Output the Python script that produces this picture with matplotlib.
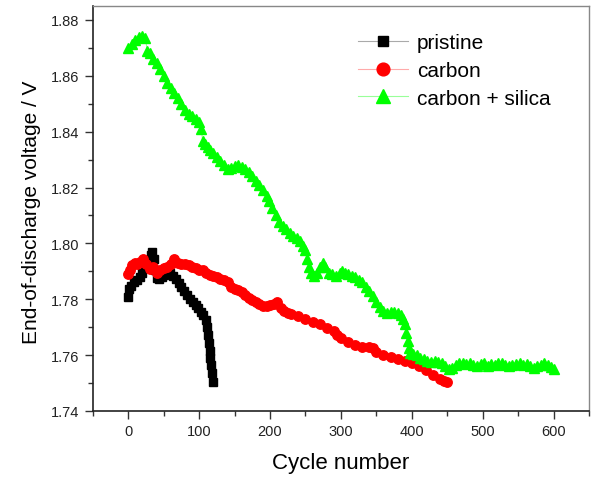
import numpy as np
import matplotlib
matplotlib.use("Agg")
import matplotlib.pyplot as plt
from matplotlib.ticker import MultipleLocator

plt.rcParams["font.family"] = ["Liberation Sans", "DejaVu Sans"]

# pristine
pristine_x = [0, 1, 4, 8, 12, 16, 20, 24, 28, 32, 34, 36, 38, 40, 43, 47, 51, 55, 59,
              63, 67, 71, 75, 79, 83, 87, 91, 95, 99, 103, 106, 109, 111, 113, 114,
              115, 116, 117, 118, 119]
pristine_y = [1.7807, 1.7838, 1.7848, 1.7860, 1.7870, 1.7880, 1.7893, 1.7915, 1.7940,
              1.7960, 1.7968, 1.7945, 1.7905, 1.7875, 1.7872, 1.7880, 1.7888, 1.7893,
              1.7893, 1.7885, 1.7872, 1.7858, 1.7845, 1.7828, 1.7815, 1.7802, 1.7790,
              1.7780, 1.7770, 1.7755, 1.7745, 1.7725, 1.7700, 1.7672, 1.7645, 1.7615,
              1.7590, 1.7565, 1.7535, 1.7502]

# carbon
carbon_x = [0, 2, 5, 9, 13, 17, 21, 25, 30, 35, 40, 45, 50, 55, 60, 65, 70, 75, 80,
            85, 90, 95, 100, 105, 110, 115, 120, 125, 130, 135, 140, 145, 150, 155,
            160, 165, 170, 175, 180, 185, 190, 195, 200, 205, 210, 215, 220, 225, 230,
            240, 250, 260, 270, 280, 290, 295, 300, 310, 320, 330, 340, 345, 350, 360,
            370, 380, 390, 400, 410, 420, 430, 440, 445, 450]
carbon_y = [1.7890, 1.7905, 1.7922, 1.7930, 1.7925, 1.7935, 1.7943, 1.7925, 1.7910,
            1.7915, 1.7895, 1.7905, 1.7912, 1.7915, 1.7925, 1.7943, 1.7930, 1.7925,
            1.7925, 1.7922, 1.7915, 1.7912, 1.7905, 1.7903, 1.7895, 1.7888, 1.7885,
            1.7880, 1.7872, 1.7868, 1.7860, 1.7845, 1.7838, 1.7832, 1.7825, 1.7815,
            1.7805, 1.7798, 1.7790, 1.7782, 1.7776, 1.7775, 1.7778, 1.7782, 1.7790,
            1.7770, 1.7758, 1.7752, 1.7748, 1.7740, 1.7730, 1.7720, 1.7712, 1.7698,
            1.7685, 1.7672, 1.7662, 1.7648, 1.7635, 1.7630, 1.7628, 1.7625, 1.7612,
            1.7600, 1.7595, 1.7585, 1.7578, 1.7570, 1.7560, 1.7545, 1.7530, 1.7515,
            1.7508, 1.7503]

# carbon + silica
silica_x = [0, 5, 10, 15, 20, 24, 27, 30, 35, 40, 45, 50, 55, 60, 65, 70, 75, 80, 85,
            90, 95, 100, 103, 105, 108, 112, 116, 120, 125, 130, 135, 140, 145, 150,
            155, 160, 165, 170, 175, 180, 185, 190, 195, 199, 203, 208, 213, 218, 223,
            228, 233, 238, 242, 246, 249, 252, 255, 258, 262, 266, 270, 274, 278, 283,
            288, 293, 298, 302, 306, 310, 315, 320, 326, 330, 335, 340, 345, 350, 355,
            360, 365, 370, 375, 380, 385, 388, 390, 392, 394, 396, 398, 402, 407, 412,
            417, 422, 427, 432, 437, 442, 447, 452, 457, 462, 467, 472, 477, 482, 487,
            492, 497, 502, 507, 512, 517, 522, 527, 532, 537, 542, 547, 552, 557, 562,
            567, 572, 577, 582, 587, 592, 597, 600]
silica_y = [1.8700, 1.8715, 1.8728, 1.8738, 1.8742, 1.8735, 1.8690, 1.8680, 1.8660,
            1.8645, 1.8625, 1.8600, 1.8575, 1.8558, 1.8538, 1.8520, 1.8500, 1.8478,
            1.8462, 1.8455, 1.8445, 1.8435, 1.8410, 1.8365, 1.8355, 1.8345, 1.8335,
            1.8325, 1.8310, 1.8295, 1.8280, 1.8268, 1.8270, 1.8278, 1.8282, 1.8275,
            1.8265, 1.8255, 1.8240, 1.8225, 1.8210, 1.8190, 1.8170, 1.8150, 1.8125,
            1.8100, 1.8078, 1.8062, 1.8050, 1.8038, 1.8028, 1.8018, 1.8010, 1.7990,
            1.7975, 1.7945, 1.7915, 1.7895, 1.7885, 1.7895, 1.7915, 1.7930, 1.7915,
            1.7895, 1.7890, 1.7885, 1.7895, 1.7900, 1.7895, 1.7890, 1.7885, 1.7880,
            1.7870, 1.7860, 1.7845, 1.7828, 1.7810, 1.7790, 1.7772, 1.7758, 1.7752,
            1.7755, 1.7755, 1.7750, 1.7742, 1.7730, 1.7710, 1.7680, 1.7650, 1.7625,
            1.7608, 1.7605, 1.7600, 1.7590, 1.7585, 1.7578, 1.7575, 1.7580, 1.7575,
            1.7570, 1.7560, 1.7550, 1.7555, 1.7565, 1.7572, 1.7570, 1.7568, 1.7570,
            1.7565, 1.7562, 1.7568, 1.7570, 1.7562, 1.7568, 1.7566, 1.7570, 1.7572,
            1.7564, 1.7560, 1.7565, 1.7568, 1.7570, 1.7565, 1.7568, 1.7560, 1.7555,
            1.7560, 1.7566, 1.7572, 1.7565, 1.7556, 1.7550]

fig = plt.figure(figsize=(5.95, 4.81), dpi=100)
ax = fig.add_axes([0.156, 0.1435, 0.834, 0.842])

ax.plot(pristine_x, pristine_y, color="#aaaaaa", lw=0.8, marker="s", ms=5.2,
        mfc="black", mec="black", label="pristine")
ax.plot(carbon_x, carbon_y, color="#ffaaaa", lw=0.8, marker="o", ms=6.8,
        mfc="red", mec="red", label="carbon")
ax.plot(silica_x, silica_y, color="#99ff99", lw=0.8, marker="^", ms=7.5,
        mfc="#00ff00", mec="#00ff00", label="carbon + silica")

ax.set_xlim(-50, 650)
ax.set_ylim(1.74, 1.885)
ax.xaxis.set_minor_locator(MultipleLocator(50))
ax.yaxis.set_minor_locator(MultipleLocator(0.01))
ax.set_xticks(np.arange(0, 601, 100))
yt = np.arange(1.74, 1.881, 0.02)
ax.set_yticks(yt)
ax.set_yticklabels([f"{v:.2f}" for v in yt])
ax.tick_params(which="both", direction="out", top=False, right=False,
               labelsize=10.5, color="#333333", labelcolor="#222222")
ax.tick_params(which="major", length=6, width=1)
ax.tick_params(which="minor", length=3.5, width=1)
for s in ["left", "bottom"]:
    ax.spines[s].set_linewidth(1.2)
    ax.spines[s].set_color("#222222")
for s in ["top", "right"]:
    ax.spines[s].set_linewidth(1)
    ax.spines[s].set_color("#888888")

ax.set_xlabel("Cycle number", fontsize=16, labelpad=10)
ax.set_ylabel("End-of-discharge voltage / V", fontsize=15)
ax.yaxis.set_label_coords(-0.105, 0.493)

ax.legend(loc="upper left", bbox_to_anchor=(0.534, 0.933), frameon=False,
          fontsize=15, numpoints=1, markerscale=1.35, handlelength=2.4,
          handletextpad=0.45, labelspacing=0.42, borderaxespad=0, borderpad=0)

fig.savefig("out.png", dpi=100)
